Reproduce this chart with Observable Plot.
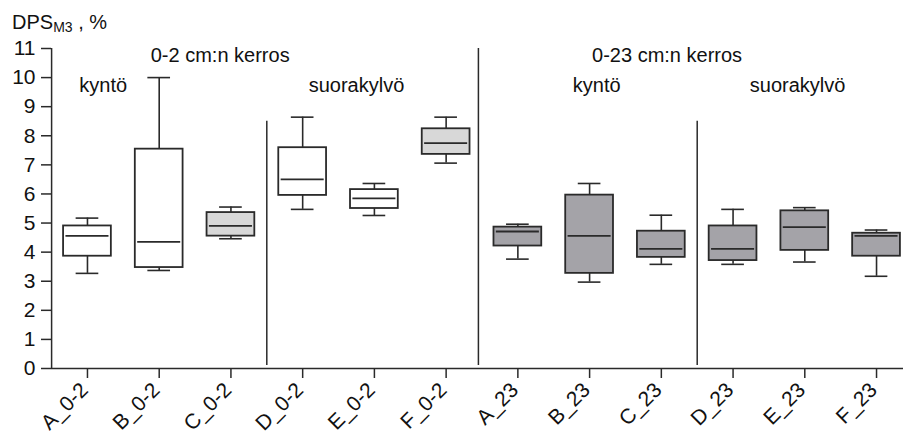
<!DOCTYPE html>
<html>
<head>
<meta charset="utf-8">
<script src="https://cdn.jsdelivr.net/npm/d3@7"></script>
<script src="https://cdn.jsdelivr.net/npm/@observablehq/plot@0.6"></script>
<style>
  html, body { margin: 0; padding: 0; background: #fff; }
  #wrap { position: relative; width: 903px; height: 434px; font-family: "Liberation Sans", Arial, sans-serif; }
  #title { position: absolute; left: 12px; top: 12px; font-size: 20px; line-height: 20px; color: #111; white-space: pre; }
  #title sub { font-size: 14px; vertical-align: -3px; line-height: 0; }
  svg { position: absolute; left: 0; top: 0; }
</style>
</head>
<body>
<div id="wrap">
  <div id="title">DPS<sub>M3</sub> , %</div>
</div>
<script>
// ---- data ----
const categories = ["A_0-2","B_0-2","C_0-2","D_0-2","E_0-2","F_0-2","A_23","B_23","C_23","D_23","E_23","F_23"];
const whiskerLow  = [3.27, 3.37, 4.46, 5.47, 5.26, 7.06, 3.76, 2.97, 3.58, 3.58, 3.66, 3.17];
const q1          = [3.86, 3.47, 4.55, 5.95, 5.50, 7.36, 4.21, 3.27, 3.82, 3.71, 4.06, 3.86];
const median      = [4.56, 4.35, 4.90, 6.50, 5.85, 7.75, 4.71, 4.56, 4.11, 4.11, 4.86, 4.56];
const q3          = [4.90, 7.54, 5.36, 7.59, 6.15, 8.24, 4.86, 5.96, 4.72, 4.90, 5.42, 4.65];
const whiskerHigh = [5.17, 10.0, 5.55, 8.64, 6.36, 8.64, 4.96, 6.36, 5.27, 5.47, 5.53, 4.76];
const shade       = ["none","none","light","none","none","light","dark","dark","dark","dark","dark","dark"];
const yTicks = [0,1,2,3,4,5,6,7,8,9,10,11];

// group separators (x in category-index units, y extent in value units)
const sepX    = [2.5, 5.45, 8.5];
const sepTop  = [8.5, 11, 8.5];
const sepBottom = [0.1, 0.1, 0.1];

// annotations
const noteText = ["0-2 cm:n kerros", "0-23 cm:n kerros", "kyntö", "suorakylvö", "kyntö", "suorakylvö"];
const noteX    = [1.85, 8.08, 0.22, 3.75, 7.10, 9.90];
const noteY    = [10.55, 10.55, 9.5, 9.5, 9.5, 9.5];

// ---- build ----
const rows = categories.map((c, i) => ({
  i, c, lo: whiskerLow[i], q1: q1[i], med: median[i], q3: q3[i], hi: whiskerHigh[i], shade: shade[i]
}));
const seps = sepX.map((x, k) => ({x, y1: sepBottom[k], y2: sepTop[k]}));
const notes = noteText.map((t, k) => ({t, x: noteX[k], y: noteY[k]}));
const xIdx = d3.range(categories.length);

const ink = "#2a2a2a";
const boxHalf = 0.333, capHalf = 0.158, medHalf = 0.30;

const chart = Plot.plot({
  width: 903,
  height: 434,
  marginTop: 48,
  marginBottom: 66,
  marginLeft: 51,
  marginRight: 0,
  style: { fontFamily: "Liberation Sans, Arial, sans-serif", color: "#111", background: "transparent", overflow: "visible" },
  x: { type: "linear", domain: [-0.5, 11.5], range: [51.1, 911.9] },
  y: { domain: [0, 11] },
  color: { type: "ordinal", domain: ["none", "light", "dark"], range: ["#ffffff", "#d8d8d8", "#a4a3a8"] },
  marks: [
    Plot.axisY({ ticks: yTicks, tickSize: 10, tickPadding: 6, fontSize: 21, label: null, stroke: ink, strokeWidth: 1.5 }),
    // x tick marks
    Plot.axisX({ ticks: xIdx, tickFormat: () => "", tickSize: 10, label: null, stroke: ink, strokeWidth: 1.5 }),
    // x tick labels (rotated)
    Plot.axisX({ ticks: xIdx, tickFormat: i => categories[i], tickRotate: -45, tickSize: 0,
                 tickPadding: 12, fontSize: 21, label: null, dx: -3, dy: 6 }),
    Plot.ruleY([0], { stroke: ink, strokeWidth: 1.5 }),
    Plot.ruleX([-0.5], { y1: 0, y2: 11, stroke: ink, strokeWidth: 1.5 }),
    Plot.ruleX(seps, { x: "x", y1: "y1", y2: "y2", stroke: ink, strokeWidth: 1.5 }),
    // whiskers
    Plot.ruleX(rows, { x: "i", y1: "lo", y2: "q1", stroke: ink, strokeWidth: 1.6 }),
    Plot.ruleX(rows, { x: "i", y1: "q3", y2: "hi", stroke: ink, strokeWidth: 1.6 }),
    Plot.ruleY(rows, { y: "lo", x1: d => d.i - capHalf, x2: d => d.i + capHalf, stroke: ink, strokeWidth: 1.6 }),
    Plot.ruleY(rows, { y: "hi", x1: d => d.i - capHalf, x2: d => d.i + capHalf, stroke: ink, strokeWidth: 1.6 }),
    // boxes
    Plot.rectY(rows, { x1: d => d.i - boxHalf, x2: d => d.i + boxHalf, y1: "q1", y2: "q3", fill: "shade", stroke: ink, strokeWidth: 1.8 }),
    // medians
    Plot.ruleY(rows, { y: "med", x1: d => d.i - medHalf, x2: d => d.i + medHalf, stroke: ink, strokeWidth: 1.8 }),
    // annotations
    Plot.text(notes, { x: "x", y: "y", text: "t", fontSize: 20, lineAnchor: "bottom", fill: "#111" })
  ]
});
document.getElementById("wrap").appendChild(chart);
</script>
</body>
</html>
